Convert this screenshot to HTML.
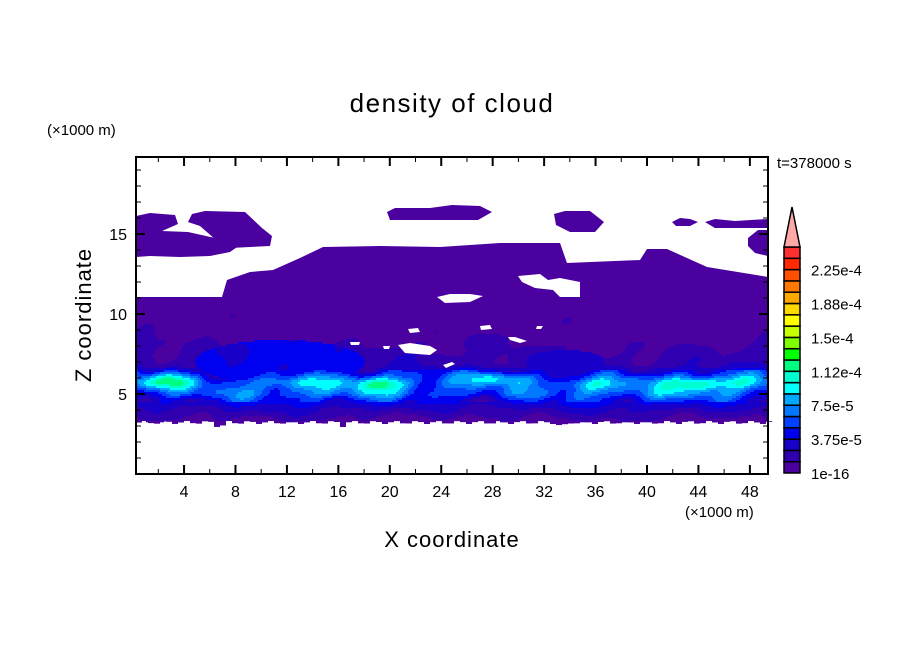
<!DOCTYPE html>
<html><head><meta charset="utf-8"><style>
html,body{margin:0;padding:0;background:#fff;}
svg{display:block;font-family:"Liberation Sans",sans-serif;}
</style></head><body>
<svg id="s" width="904" height="654" viewBox="0 0 904 654" xmlns="http://www.w3.org/2000/svg">
<rect width="904" height="654" fill="#fff"/>
<text x="452" y="112" font-size="26" text-anchor="middle" letter-spacing="1.5">density of cloud</text>
<text x="47" y="135" font-size="15">(×1000 m)</text>
<text x="777" y="168" font-size="15">t=378000 s</text>
<text x="685" y="517" font-size="15">(×1000 m)</text>
<text x="452" y="547" font-size="22" text-anchor="middle" letter-spacing="1">X coordinate</text>
<text transform="translate(91,315) rotate(-90)" font-size="22" text-anchor="middle" letter-spacing="1">Z coordinate</text>
<g id="field"></g>
<g id="axes"></g>
</svg>
<script>
var NS="http://www.w3.org/2000/svg",F=document.getElementById('field'),A=document.getElementById('axes');
function el(p,n,a){var e=document.createElementNS(NS,n);for(var k in a)e.setAttribute(k,a[k]);p.appendChild(e);return e;}
var C=["#fff","#4b00a0","#3000b0","#1800c8","#0000f0","#0040ff","#0078ff","#00a8ff","#00ffff","#00ffd0","#00ff80","#00ff00","#80ff00","#c8ff00","#ffff00","#ffd800","#ffa800","#ff7800","#ff5000","#ff2800","#ff3030"];
var P=C[1];
function poly(pts,c){el(F,'polygon',{points:pts,fill:c});}
poly("136,297 222,297 227,280 250,272 273,270 300,258 323,247 380,246 440,247 500,243 560,243 567,263 640,260 647,249 667,249 707,267 768,277 768,421 136,421",P);
poly("136,216 150,213 175,215 178,224 162,231 188,232 215,238 240,245 230,252 210,256 180,257 150,256 136,257",P);
poly("192,214 205,211 245,212 262,228 272,236 270,246 230,248 216,240 200,226 188,222",P);
poly("387,212 395,208 430,208 452,205 480,206 492,212 478,220 430,220 390,220",P);
poly("554,214 565,211 590,211 604,222 595,232 570,232 556,225",P);
poly("672,222 680,218 690,219 698,222 690,226 676,226",P);
poly("705,222 715,219 735,221 768,219 768,228 715,228",P);
poly("748,238 758,230 768,230 768,256 755,253 748,246",P);
function n(x,y){return 0.4*Math.sin(x*0.09+y*0.06)+0.35*Math.sin(x*0.041-y*0.15+1.3)+0.15*Math.sin(x*0.17+y*0.21+2.1)+0.25*Math.sin(x*0.019+y*0.05+0.7);}
var bk=[[300,1],[318,1.1],[335,1.4],[348,2.0],[366,2.6],[374,4.6],[382,6.0],[394,6.0],[400,4.6],[407,3.4],[414,2.4],[421,1.6]];
function base(y){if(y<=bk[0][0])return 1;for(var i=1;i<bk.length;i++){if(y<=bk[i][0]){var a=bk[i-1],b=bk[i];return a[1]+(b[1]-a[1])*(y-a[0])/(b[0]-a[0]);}}return 1;}
function amp(y){return (y>370&&y<402)?2.4:0.9;}
var hot=[[160,383,4,20],[380,384,3.5,18],[500,378,3.5,20],[700,384,4,18],[590,385,2.5,20],[290,383,2,20],[745,382,2,15],[170,376,2,10]];
var B=2;
for(var y=300;y<421;y+=B){for(var x=136;x<768;x+=B){var cx=x+1,cy=y+1;
var v=base(cy)+amp(cy)*n(cx,cy);
var d=(cx-280)/85,e=(cy-362)/22; if(d*d+e*e<1)v=Math.max(v,4.2+0.5*n(cx*1.3,cy));
var d2=(cx-565)/40,e2=(cy-362)/12; if(d2*d2+e2*e2<1)v=Math.max(v,3.2);
for(var h=0;h<hot.length;h++){var H=hot[h],dx=(cx-H[0])/H[3]/1.6,dy=(cy-H[1])/7;v+=H[2]*Math.exp(-(dx*dx+dy*dy));}
var L=Math.floor(v);if(L<2)continue;if(L>15)L=15;
el(F,'rect',{x:x,y:y,width:B+0.3,height:B+0.3,fill:C[L]});}}
var W="#fff";
["518,276 540,274 548,280 560,278 580,282 580,297 560,297 553,290 535,288 522,282",
"437,297 450,294 470,294 483,296 470,302 445,303",
"480,326 490,325 492,329 481,330","408,329 418,328 420,332 410,333",
"508,337 515,337 527,341 520,343 510,340","537,326 543,326 541,329 536,329",
"350,342 360,342 359,345 351,345","383,346 390,346 389,349 384,349",
"398,345 410,343 430,346 437,350 430,355 405,353","443,365 452,362 455,364 446,368"].forEach(function(p){poly(p,W);});
for(var x=136;x<768;x+=6){var hh=1.5+1.5*Math.sin(x*0.3)+(Math.abs(x-215)<6||Math.abs(x-340)<6||Math.abs(x-560)<6?3:0);el(F,'rect',{x:x,y:421,width:6,height:hh,fill:P});}
el(A,'rect',{x:136,y:157,width:632,height:317,fill:'none',stroke:'#000','stroke-width':2});
for(var z=1;z<=19;z++){var yy=474-16*z,L2=(z%5==0)?9:5,w=(z%5==0)?2:1;
el(A,'line',{x1:136,y1:yy,x2:136+L2,y2:yy,stroke:'#000','stroke-width':w});
el(A,'line',{x1:768,y1:yy,x2:768-L2,y2:yy,stroke:'#000','stroke-width':w});
if(z%5==0){var t=el(A,'text',{x:127,y:yy+6,'font-size':16,'text-anchor':'end'});t.textContent=z;}}
for(var xv=2;xv<=48;xv+=2){var xx=132.6+xv*12.86,maj=xv%4==0,L3=maj?9:5;
el(A,'line',{x1:xx,y1:474,x2:xx,y2:474-L3,stroke:'#000','stroke-width':maj?2:1});
el(A,'line',{x1:xx,y1:157,x2:xx,y2:157+L3,stroke:'#000','stroke-width':maj?2:1});
if(maj){var t=el(A,'text',{x:xx,y:497,'font-size':16,'text-anchor':'middle'});t.textContent=xv;}}
var h=(473-247)/20;
for(var i=0;i<20;i++){el(A,'rect',{x:784,y:473-(i+1)*h,width:16,height:h,fill:C[i+1],stroke:'#000','stroke-width':1.5});}
el(A,'polygon',{points:"784,247 800,247 792,207",fill:'#ffa8a8',stroke:'#000','stroke-width':1.5});
["1e-16","3.75e-5","7.5e-5","1.12e-4","1.5e-4","1.88e-4","2.25e-4"].forEach(function(s,k){var t=el(A,'text',{x:811,y:479-k*3*h,'font-size':15});t.textContent=s;});
</script>
</body></html>
